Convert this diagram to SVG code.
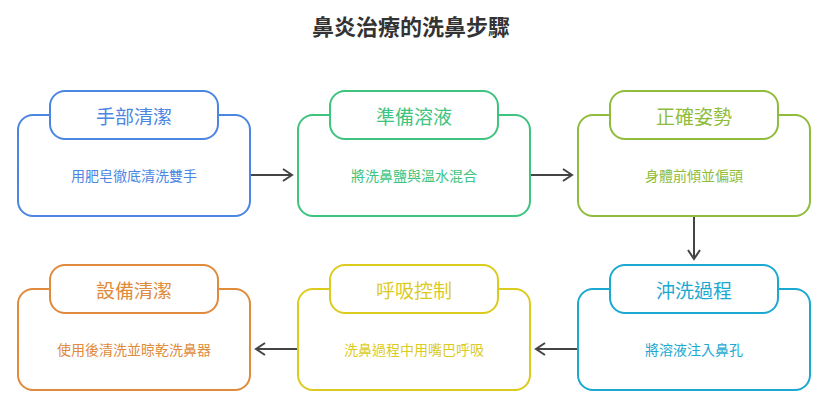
<svg xmlns="http://www.w3.org/2000/svg" width="823" height="407" viewBox="0 0 823 407">
<defs><marker id="a" markerWidth="12" markerHeight="14" refX="10" refY="7" orient="auto" markerUnits="userSpaceOnUse"><path d="M1,1 L10,7 L1,13" fill="none" stroke="#444" stroke-width="2"/></marker></defs>
<style>
text{font-family:"Noto Sans CJK TC","Noto Sans CJK SC",sans-serif;text-anchor:middle;dominant-baseline:central}
.b{fill:#fff;stroke-width:2}
.t{font-size:19px}.d{font-size:14px}
.c1{stroke:#4b86e2;fill:#4b86e2}.c2{stroke:#3dc47f;fill:#3dc47f}.c3{stroke:#8fbd3b;fill:#8fbd3b}
.c4{stroke:#1ba9d2;fill:#1ba9d2}.c5{stroke:#dccb1f;fill:#dccb1f}.c6{stroke:#e08a3b;fill:#e08a3b}
text.c1,text.c2,text.c3,text.c4,text.c5,text.c6{stroke:none}
</style>
<rect width="823" height="407" fill="#fff"/>
<text x="411" y="25" style="font-size:22px;font-weight:bold" fill="#333">鼻炎治療的洗鼻步驟</text>
<g id="n1"><rect class="b" x="18" y="115" width="232" height="101" rx="15" stroke="#4b86e2"/><rect class="b" x="50" y="91" width="168" height="48" rx="15" stroke="#4b86e2"/><text class="t c1" x="134" y="115">手部清潔</text><text class="d c1" x="134" y="175">用肥皂徹底清洗雙手</text></g>
<g id="n2"><rect class="b" x="298" y="115" width="232" height="101" rx="15" stroke="#3dc47f"/><rect class="b" x="330" y="91" width="168" height="48" rx="15" stroke="#3dc47f"/><text class="t c2" x="414" y="115">準備溶液</text><text class="d c2" x="414" y="175">將洗鼻鹽與溫水混合</text></g>
<g id="n3"><rect class="b" x="578" y="115" width="232" height="101" rx="15" stroke="#8fbd3b"/><rect class="b" x="610" y="91" width="168" height="48" rx="15" stroke="#8fbd3b"/><text class="t c3" x="694" y="115">正確姿勢</text><text class="d c3" x="694" y="175">身體前傾並偏頭</text></g>
<g id="n4"><rect class="b" x="578" y="289" width="232" height="101" rx="15" stroke="#1ba9d2"/><rect class="b" x="610" y="265" width="168" height="48" rx="15" stroke="#1ba9d2"/><text class="t c4" x="694" y="289">沖洗過程</text><text class="d c4" x="694" y="349">將溶液注入鼻孔</text></g>
<g id="n5"><rect class="b" x="298" y="289" width="232" height="101" rx="15" stroke="#dccb1f"/><rect class="b" x="330" y="265" width="168" height="48" rx="15" stroke="#dccb1f"/><text class="t c5" x="414" y="289">呼吸控制</text><text class="d c5" x="414" y="349">洗鼻過程中用嘴巴呼吸</text></g>
<g id="n6"><rect class="b" x="18" y="289" width="232" height="101" rx="15" stroke="#e08a3b"/><rect class="b" x="50" y="265" width="168" height="48" rx="15" stroke="#e08a3b"/><text class="t c6" x="134" y="289">設備清潔</text><text class="d c6" x="134" y="349">使用後清洗並晾乾洗鼻器</text></g>
<g id="edges" stroke="#444" stroke-width="2" fill="none" marker-end="url(#a)">
<path d="M251,175 H292"/><path d="M531,175 H572"/><path d="M694,217 V259"/><path d="M577,349 H536"/><path d="M297,349 H256"/>
</g>
</svg>
